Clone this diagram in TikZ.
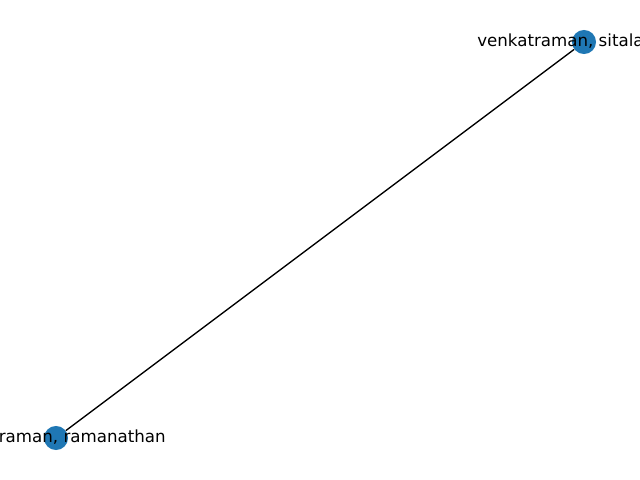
\documentclass[tikz,border=0pt]{standalone}
\usepackage{fontspec}
\setmainfont{DejaVu Sans}
\definecolor{nxblue}{HTML}{1F77B4}
\begin{document}
\begin{tikzpicture}[x=0.72pt, y=0.72pt, font=\fontsize{12}{14}\selectfont,
  vert/.style={circle, fill=nxblue, minimum size=17.3pt, inner sep=0pt},
  lab/.style={inner sep=0pt, text height=8.8pt, text depth=2.4pt}]
  \useasboundingbox (0,0) rectangle (640,480);
  \clip (0,0) rectangle (640,480);
  \node[vert] (sitala) at (584,438) {};
  \node[vert] (ramanathan) at (56,42) {};
  \draw[line width=1pt] (sitala) -- (ramanathan);
  \node[lab, anchor=west] (labsitala) at (477,438) {venkatraman, sitala};
  \node[lab, anchor=east] (labramanathan) at (166,42) {traman, ramanathan};
\end{tikzpicture}
\end{document}
